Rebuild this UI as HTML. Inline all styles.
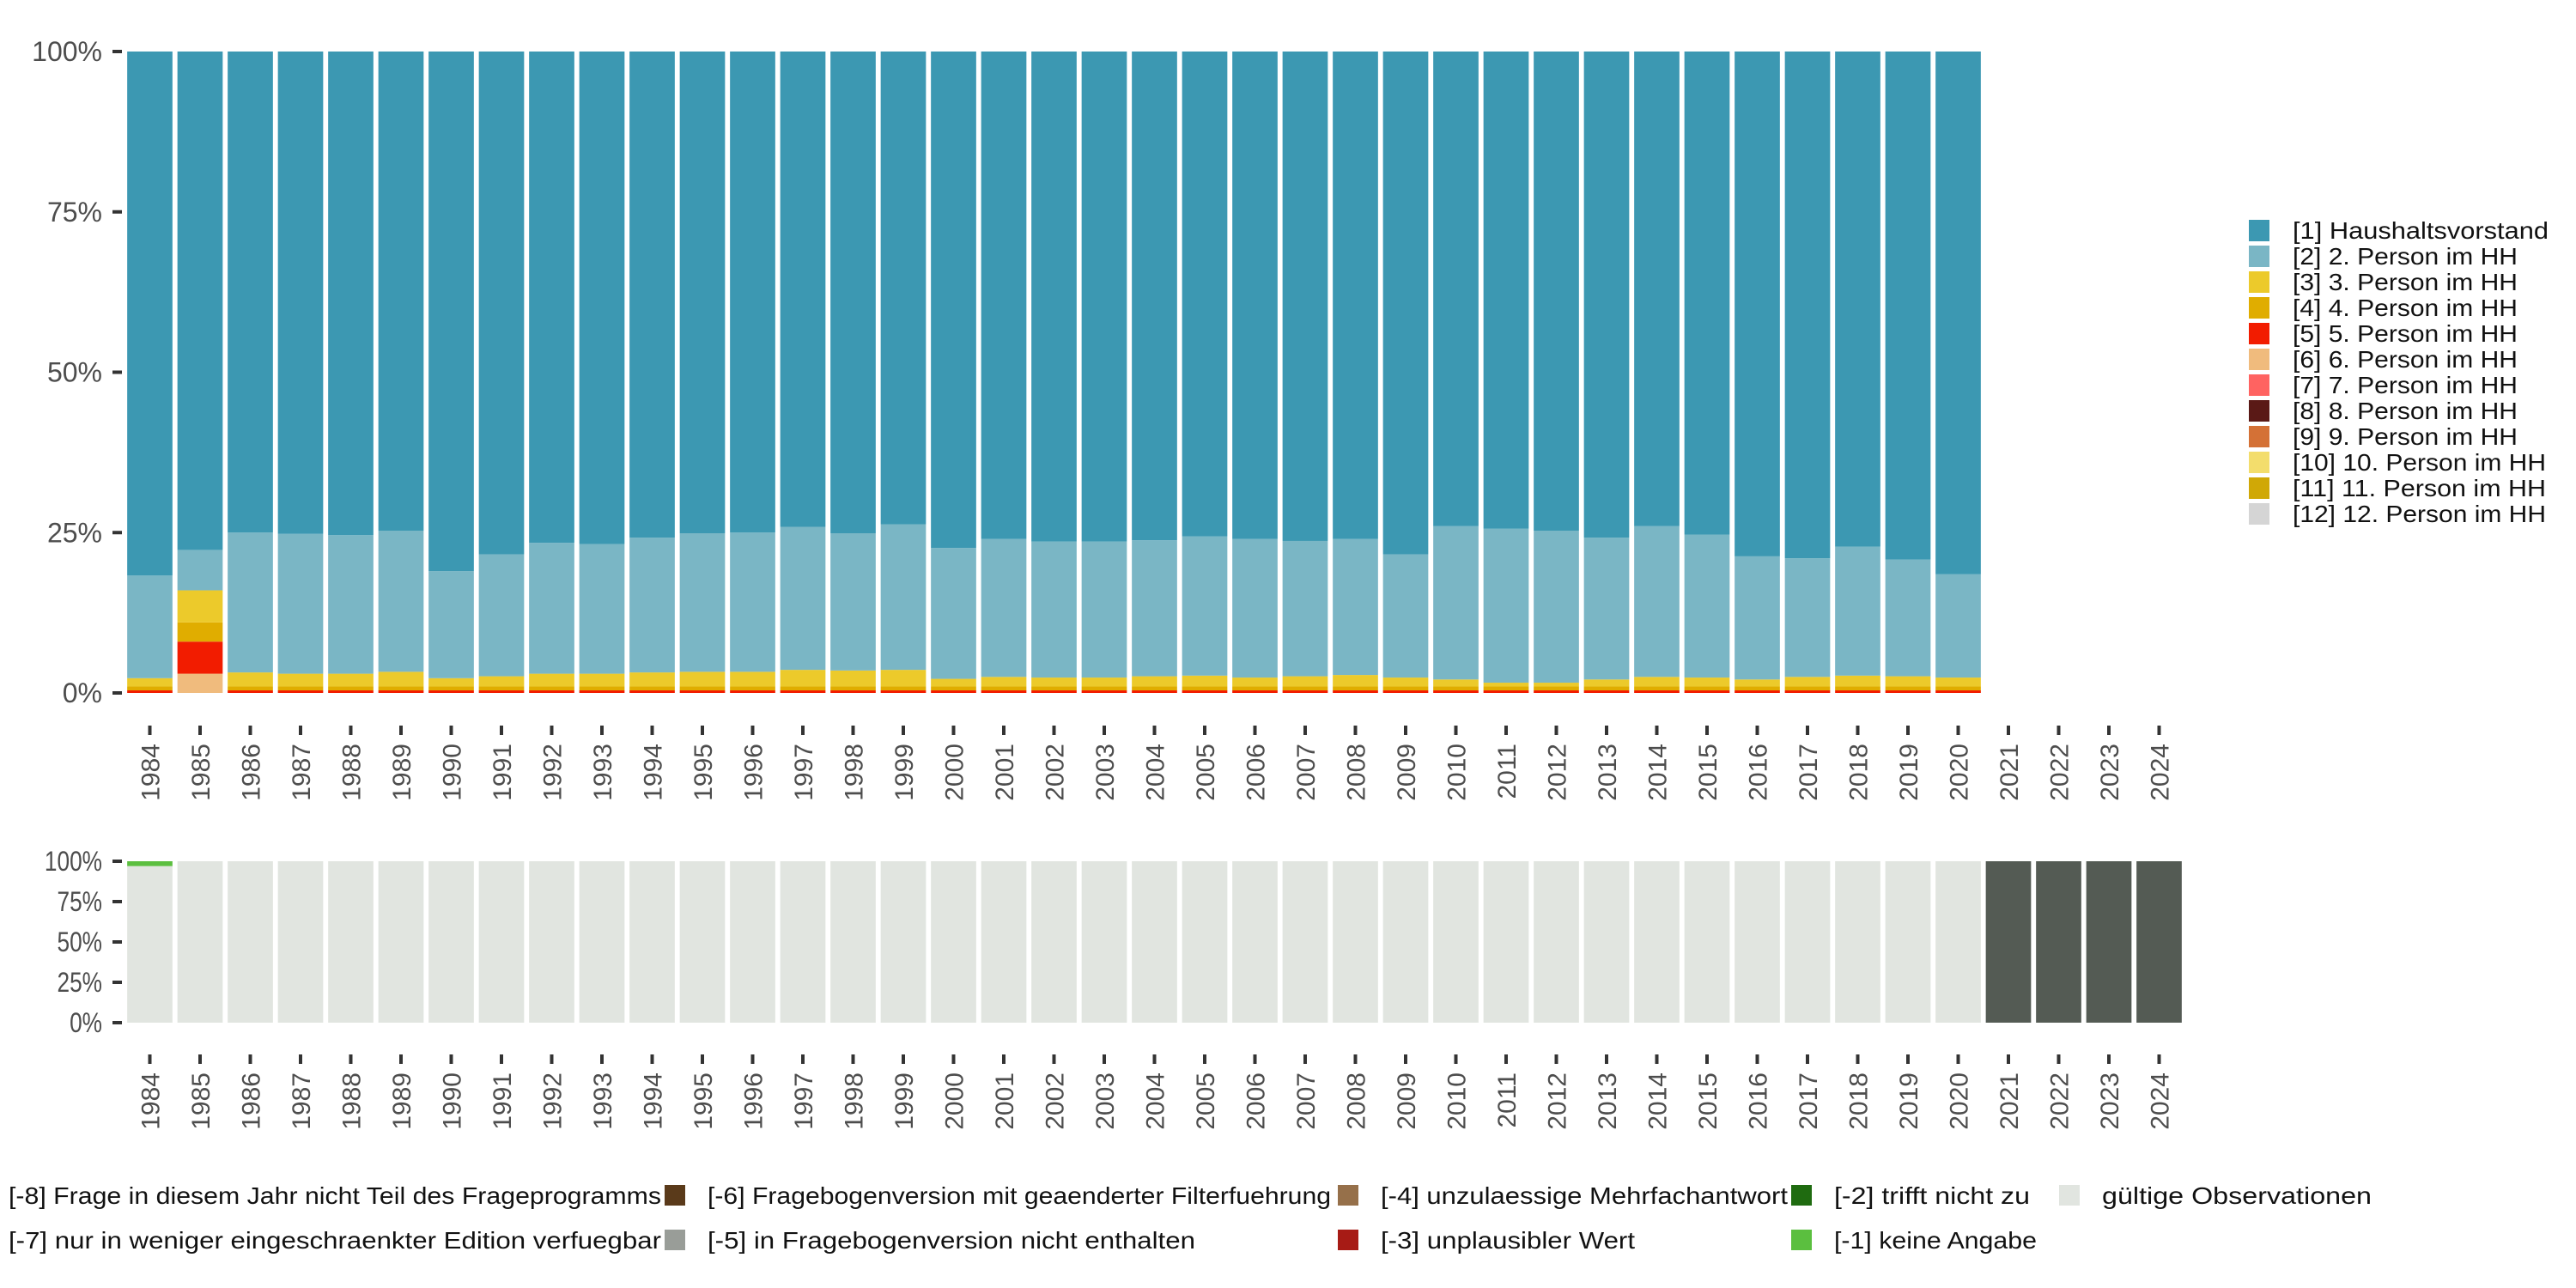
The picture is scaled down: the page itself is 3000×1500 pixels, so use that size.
<!DOCTYPE html>
<html><head><meta charset="utf-8"><style>
html,body{margin:0;padding:0;background:#fff;}
svg{display:block;font-family:"Liberation Sans",sans-serif;}
</style></head><body>
<svg id="chart" width="3000" height="1500" viewBox="0 0 3000 1500" xmlns="http://www.w3.org/2000/svg"></svg>
<script>
const years = [];
for (let y = 1984; y <= 2024; y++) years.push(String(y));
const topYears = years.slice(0, 37);
const s1 = [81.7,77.7,75,75.2,75.4,74.7,81,78.4,76.6,76.8,75.8,75.1,75,74.1,75.1,73.7,77.4,76,76.4,76.4,76.2,75.6,76,76.3,76,78.4,74,74.4,74.7,75.8,74,75.3,78.7,79,77.2,79.2,81.5];
const s2 = [16.0,6.3,21.8,21.8,21.6,22.0,16.7,19.0,20.4,20.2,21.0,21.6,21.7,22.3,21.4,22.7,20.4,21.5,21.2,21.2,21.2,21.7,21.6,21.1,21.2,19.2,23.9,24.0,23.7,22.1,23.5,22.3,19.2,18.5,20.1,18.2,16.1];
const s3 = [1.3,5,2.2,2.0,2.0,2.3,1.3,1.6,2.0,2.0,2.2,2.3,2.3,2.6,2.5,2.6,1.2,1.5,1.4,1.4,1.6,1.7,1.4,1.6,1.8,1.4,1.1,0.6,0.6,1.1,1.5,1.4,1.1,1.5,1.7,1.6,1.4];
const s4 = [0.6,3,0.6,0.6,0.6,0.6,0.6,0.6,0.6,0.6,0.6,0.6,0.6,0.6,0.6,0.6,0.6,0.6,0.6,0.6,0.6,0.6,0.6,0.6,0.6,0.6,0.6,0.6,0.6,0.6,0.6,0.6,0.6,0.6,0.6,0.6,0.6];
const s5 = [0.4,5,0.4,0.4,0.4,0.4,0.4,0.4,0.4,0.4,0.4,0.4,0.4,0.4,0.4,0.4,0.4,0.4,0.4,0.4,0.4,0.4,0.4,0.4,0.4,0.4,0.4,0.4,0.4,0.4,0.4,0.4,0.4,0.4,0.4,0.4,0.4];
const s6 = [0,3,0,0,0,0,0,0,0,0,0,0,0,0,0,0,0,0,0,0,0,0,0,0,0,0,0,0,0,0,0,0,0,0,0,0,0];
const topLabels = ["[1] Haushaltsvorstand","[2] 2. Person im HH","[3] 3. Person im HH","[4] 4. Person im HH","[5] 5. Person im HH","[6] 6. Person im HH","[7] 7. Person im HH","[8] 8. Person im HH","[9] 9. Person im HH","[10] 10. Person im HH","[11] 11. Person im HH","[12] 12. Person im HH"];
const topColors = ["#3c98b2","#7ab6c5","#ecca2b","#e0ad00","#f21c00","#f0bb7d","#ff6361","#5a1916","#d47136","#f3dd6c","#d0a806","#d5d5d5"];
const bValid = [97,100,100,100,100,100,100,100,100,100,100,100,100,100,100,100,100,100,100,100,100,100,100,100,100,100,100,100,100,100,100,100,100,100,100,100,100,0,0,0,0];
const bMissing = [3,0,0,0,0,0,0,0,0,0,0,0,0,0,0,0,0,0,0,0,0,0,0,0,0,0,0,0,0,0,0,0,0,0,0,0,0,0,0,0,0];
const bNotPart = [0,0,0,0,0,0,0,0,0,0,0,0,0,0,0,0,0,0,0,0,0,0,0,0,0,0,0,0,0,0,0,0,0,0,0,0,0,100,100,100,100];
const yTicks = [0,25,50,75,100];
const yTickLabels = ["0%","25%","50%","75%","100%"];

const NS = "http://www.w3.org/2000/svg";
const svg = document.getElementById('chart');
function mk(tag, attrs, parent) {
  const e = document.createElementNS(NS, tag);
  for (const k in attrs) e.setAttribute(k, attrs[k]);
  (parent || svg).appendChild(e);
  return e;
}
const X0 = 174.5, PITCH = 58.5, BW = 52.7;
function xc(i) { return X0 + PITCH * i; }
function yTop(v) { return 807 - (807 - 60) * v / 100; }
function yBot(v) { return 1191 - (1191 - 1003) * v / 100; }

const topG = mk('g', {});


const topSeries = [s1, s2, s3, s4, s5, s6];
topYears.forEach((yr, i) => {
  let total = 0;
  topSeries.forEach(s => total += s[i]);
  let cum = 0;
  for (let k = topSeries.length - 1; k >= 0; k--) {
    const v = topSeries[k][i] / total * 100;
    if (v <= 0) continue;
    const r = mk('rect', {x: xc(i) - BW / 2, y: yTop(cum + v), width: BW, height: yTop(cum) - yTop(cum + v), fill: topColors[k]}, topG);
    
    
    cum += v;
  }
});
yTicks.forEach((t, j) => {
  const l = mk('line', {x1: 131, x2: 142, y1: yTop(t), y2: yTop(t), stroke: '#333', 'stroke-width': 4}, topG);
  
  
  const tx = mk('text', {x: 119, y: yTop(t) + 11, 'text-anchor': 'end', 'font-size': 32, fill: '#4d4d4d'}, topG);
  tx.textContent = yTickLabels[j];
  
  
});
years.forEach((yr, i) => {
  const l = mk('line', {x1: xc(i), x2: xc(i), y1: 845, y2: 856, stroke: '#333', 'stroke-width': 4}, topG);
  
  
  const tx = mk('text', {transform: 'translate(' + (xc(i) + 11) + ',866) rotate(-90)', 'text-anchor': 'end', 'font-size': 30, fill: '#4d4d4d'}, topG);
  tx.textContent = yr;
  
  
});

const lg = mk('g', {});


topLabels.forEach((lab, k) => {
  const y = 256 + 30 * k;
  const r = mk('rect', {x: 2619, y: y, width: 24, height: 25, fill: topColors[k]}, lg);
  
  
  const tl = k === 0 ? 298 : (k >= 9 ? 295 : 262);
  const t = mk('text', {x: 2670, y: y + 22, 'font-size': 28, fill: '#111', textLength: tl, lengthAdjust: 'spacingAndGlyphs'}, lg);
  t.textContent = lab;
  
  
});

const botG = mk('g', {});


const botSeries = [[bNotPart, '#545b54'], [bMissing, '#5bbf3f'], [bValid, '#e1e5e0']];
years.forEach((yr, i) => {
  let cum = 0;
  for (let k = botSeries.length - 1; k >= 0; k--) {
    const v = botSeries[k][0][i];
    if (v <= 0) continue;
    const r = mk('rect', {x: xc(i) - BW / 2, y: yBot(cum + v), width: BW, height: yBot(cum) - yBot(cum + v), fill: botSeries[k][1]}, botG);
    
    
    cum += v;
  }
});
yTicks.forEach((t, j) => {
  const l = mk('line', {x1: 131, x2: 142, y1: yBot(t), y2: yBot(t), stroke: '#333', 'stroke-width': 4}, botG);
  
  
  const tx = mk('text', {x: 119, y: yBot(t) + 11, 'text-anchor': 'end', 'font-size': 32, fill: '#4d4d4d', transform: 'translate(119,0) scale(0.82,1) translate(-119,0)'}, botG);
  tx.textContent = yTickLabels[j];
  
  
});
years.forEach((yr, i) => {
  const l = mk('line', {x1: xc(i), x2: xc(i), y1: 1228, y2: 1239, stroke: '#333', 'stroke-width': 4}, botG);
  
  
  const tx = mk('text', {transform: 'translate(' + (xc(i) + 11) + ',1249) rotate(-90)', 'text-anchor': 'end', 'font-size': 30, fill: '#4d4d4d'}, botG);
  tx.textContent = yr;
  
  
});

const bl = mk('g', {});


const bItems = [
  ['[-8] Frage in diesem Jahr nicht Teil des Frageprogramms', '#545b54', -40, 1392, 760],
  ['[-7] nur in weniger eingeschraenkter Edition verfuegbar', '#999d98', -40, 1444, 760],
  ['[-6] Fragebogenversion mit geaenderter Filterfuehrung', '#5a3a1a', 774, 1392, 726],
  ['[-5] in Fragebogenversion nicht enthalten', '#999d98', 774, 1444, 568],
  ['[-4] unzulaessige Mehrfachantwort', '#96704a', 1558, 1392, 474],
  ['[-3] unplausibler Wert', '#a71b15', 1558, 1444, 296],
  ['[-2] trifft nicht zu', '#1f6b10', 2086, 1392, 228],
  ['[-1] keine Angabe', '#5bbf3f', 2086, 1444, 236],
  ['gültige Observationen', '#e1e5e0', 2398, 1392, 314]
];
bItems.forEach(it => {
  const r = mk('rect', {x: it[2], y: it[3] - 12, width: 24, height: 24, fill: it[1]}, bl);
  
  
  const t = mk('text', {x: it[2] + 50, y: it[3] + 10, 'font-size': 28, fill: '#111', textLength: it[4], lengthAdjust: 'spacingAndGlyphs'}, bl);
  t.textContent = it[0];
  
  
});
</script>
</body></html>
